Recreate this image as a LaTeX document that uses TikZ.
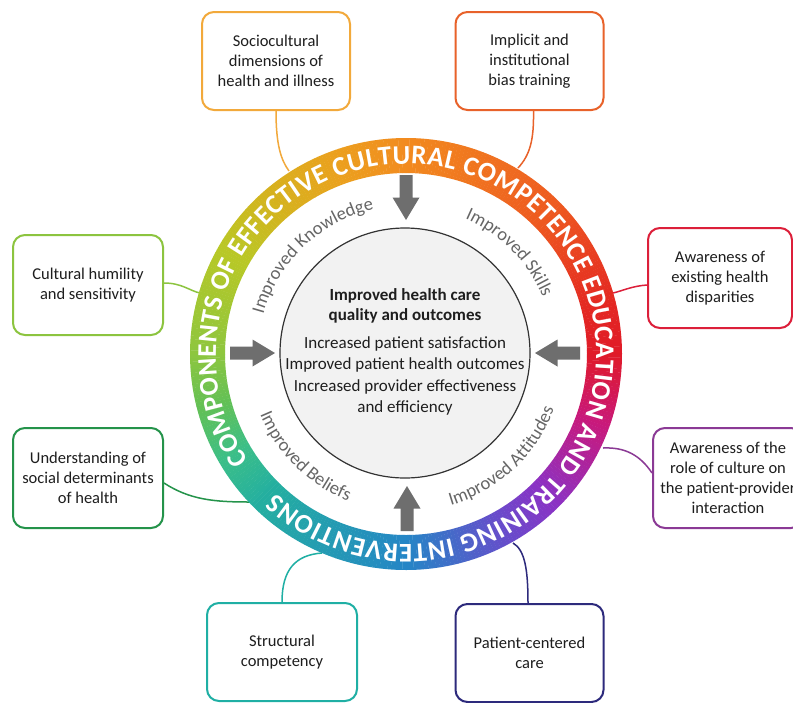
\documentclass[tikz,border=0pt]{standalone}
\usepackage{fontspec}
\setmainfont{Carlito}
\usetikzlibrary{decorations.text}
% ring colour stops
\definecolor{r1}{HTML}{F28B1F}
\definecolor{r2}{HTML}{EE5A20}
\definecolor{r3}{HTML}{E42A22}
\definecolor{r4}{HTML}{E01A28}
\definecolor{r5}{HTML}{C8197C}
\definecolor{r6}{HTML}{8B32C4}
\definecolor{r7}{HTML}{6A4ACB}
\definecolor{r8}{HTML}{2586C6}
\definecolor{r9}{HTML}{24AFA0}
\definecolor{r10}{HTML}{3CBF88}
\definecolor{r11}{HTML}{62C056}
\definecolor{r12}{HTML}{8DC63F}
\definecolor{r13}{HTML}{B9C826}
\definecolor{r14}{HTML}{D6B21E}
\definecolor{r15}{HTML}{EBA11E}
% box colours
\definecolor{socC}{HTML}{F2A93B}
\definecolor{impC}{HTML}{E8622A}
\definecolor{disC}{HTML}{DC1F3A}
\definecolor{humC}{HTML}{8CC43F}
\definecolor{sdhC}{HTML}{24934A}
\definecolor{strC}{HTML}{1FAFA4}
\definecolor{patC}{HTML}{2D2A7C}
\definecolor{rolC}{HTML}{8B3A95}
\definecolor{arrowgray}{HTML}{6E6E6E}
\definecolor{labgray}{HTML}{666666}
\definecolor{coretext}{HTML}{1E1E1E}
\tikzset{
  box/.style={draw=#1, line width=2pt, rounded corners=12pt, fill=white,
    minimum width=148pt, minimum height=98pt, align=center, text=coretext,
    font=\fontsize{16.5}{20}\selectfont, inner sep=2pt},
  conn/.style={draw=#1, line width=1.5pt},
  garrow/.pic={\fill[arrowgray] (-22.5,-6.5) -- (0,-6.5) -- (0,-13.5) -- (22.5,0)
     -- (0,13.5) -- (0,6.5) -- (-22.5,6.5) -- cycle;}
}
\begin{document}
\begin{tikzpicture}[x=1pt,y=1pt]
\clip (0,0) rectangle (793,-702);
\fill[white] (0,0) rectangle (793,-702);

% boxes
\node[box=socC] (soc) at (276,-61) {Sociocultural\\dimensions of\\health and illness};
\node[box=impC] (imp) at (529.5,-61) {Implicit and\\institutional\\bias training};
\node[box=disC, minimum width=144pt, minimum height=100pt] (dis) at (720,-278) {Awareness of\\existing health\\disparities};
\node[box=humC, minimum width=150pt, minimum height=100pt] (hum) at (88,-285) {Cultural humility\\and sensitivity};
\node[box=sdhC, minimum width=150pt, minimum height=100pt] (sdh) at (88,-478) {Understanding of\\social determinants\\of health};
\node[box=strC, minimum width=150pt] (str) at (282,-652) {Structural\\competency};
\node[box=patC] (pat) at (529.5,-653) {Patient-centered\\care};
\node[box=rolC, minimum width=150pt, minimum height=100pt] (rol) at (728,-478) {Awareness of the\\role of culture on\\the patient-provider\\interaction};

% ring attachment points
\coordinate (c1) at (289,-171);
\coordinate (c2) at (518,-168);
\coordinate (c3) at (613,-293);
\coordinate (c4) at (200,-293);
\coordinate (c5) at (250,-502);
\coordinate (c6) at (322,-553);
\coordinate (c7) at (513,-543);
\coordinate (c8) at (603,-448);

% connectors
\draw[conn=socC] (soc.south) .. controls (276,-145) and (281,-160) .. (c1);
\draw[conn=impC] ([xshift=4pt]imp.south) .. controls (534,-140) and (530,-155) .. (c2);
\draw[conn=disC] ([yshift=-7pt]dis.west) .. controls (632,-286) and (622,-291) .. (c3);
\draw[conn=humC] ([yshift=2pt]hum.east) .. controls (182,-283) and (190,-291) .. (c4);
\draw[conn=sdhC] ([yshift=-5pt]sdh.east) .. controls (190,-500) and (215,-502) .. (c5);
\draw[conn=strC] (str.north) .. controls (282,-570) and (295,-555) .. (c6);
\draw[conn=patC] ([xshift=-1.5pt]pat.north) .. controls (528,-570) and (525,-550) .. (c7);
\draw[conn=rolC] ([yshift=5pt]rol.west) .. controls (640,-455) and (625,-447) .. (c8);

% rainbow ring
\begin{scope}[shift={(406,-354)}]
\foreach \sa/\ea/\ca/\cb in {90/45/r1/r2, 45/15/r2/r3, 15/0/r3/r4, 0/-20/r4/r5,
  -20/-45/r5/r6, -45/-60/r6/r7, -60/-90/r7/r8, -90/-135/r8/r9, -135/-150/r9/r10,
  -150/-165/r10/r11, -165/-180/r11/r12, -180/-210/r12/r13, -210/-230/r13/r14,
  -230/-250/r14/r15, -250/-270/r15/r1}{
  \pgfmathtruncatemacro{\n}{\sa-\ea}
  \foreach \k in {1,...,\n}{
    \pgfmathsetmacro{\p}{100*(\k-0.5)/\n}
    \pgfmathsetmacro{\aa}{\sa-\k+1.08}
    \pgfmathsetmacro{\bb}{\sa-\k}
    \colorlet{segc}{\cb!\p!\ca}
    \fill[segc] (\aa:216) arc[start angle=\aa, end angle=\bb, radius=216]
      -- (\bb:181) arc[start angle=\bb, end angle=\aa, radius=181] -- cycle;
  }
}
\path[decorate, decoration={text along path, text align=fit to path, text color=white,
  text={|\bfseries\fontsize{27}{27}\selectfont|COMPONENTS OF EFFECTIVE CULTURAL COMPETENCE EDUCATION AND TRAINING INTERVENTIONS}}]
  (214:190) arc[start angle=214, end angle=-133, radius=190];

% arc labels
\path[decorate, decoration={text along path, text align=center, text color=labgray,
  text={|\fontsize{18.5}{18.5}\selectfont|Improved Knowledge}}]
  (178.5:148) arc[start angle=178.5, end angle=88.5, radius=148];
\path[decorate, decoration={text along path, text align=center, text color=labgray,
  text={|\fontsize{18.5}{18.5}\selectfont|Improved Skills}}]
  (89.5:148) arc[start angle=89.5, end angle=-0.5, radius=148];
\path[decorate, decoration={text along path, text align=center, text color=labgray,
  text={|\fontsize{18.5}{18.5}\selectfont|Improved Beliefs}}]
  (180.5:158) arc[start angle=180.5, end angle=270.5, radius=158];
\path[decorate, decoration={text along path, text align=center, text color=labgray,
  text={|\fontsize{18.5}{18.5}\selectfont|Improved Attitudes}}]
  (-92:158) arc[start angle=-92, end angle=-2, radius=158];
\end{scope}

% core circle
\node[circle, draw=black!80, fill=black!5, line width=1.2pt, minimum size=250pt, inner sep=0pt] (core) at (405,-353) {};
\node[font=\bfseries\fontsize{17}{20.5}\selectfont, align=center, text=coretext] (head) at (405,-306) {Improved health care\\quality and outcomes};
\node[font=\fontsize{17}{21.5}\selectfont, align=center, text=coretext] (list) at (405,-376) {Increased patient satisfaction\\Improved patient health outcomes\\Increased provider effectiveness\\and efficiency};

% arrows
\pic (adown) [rotate=-90] at (406,-197.5) {garrow};
\pic (aup) [rotate=90] at (407,-508.5) {garrow};
\pic (aright) at (252.5,-353) {garrow};
\pic (aleft) [rotate=180] at (557.5,-353) {garrow};
\end{tikzpicture}
\end{document}
